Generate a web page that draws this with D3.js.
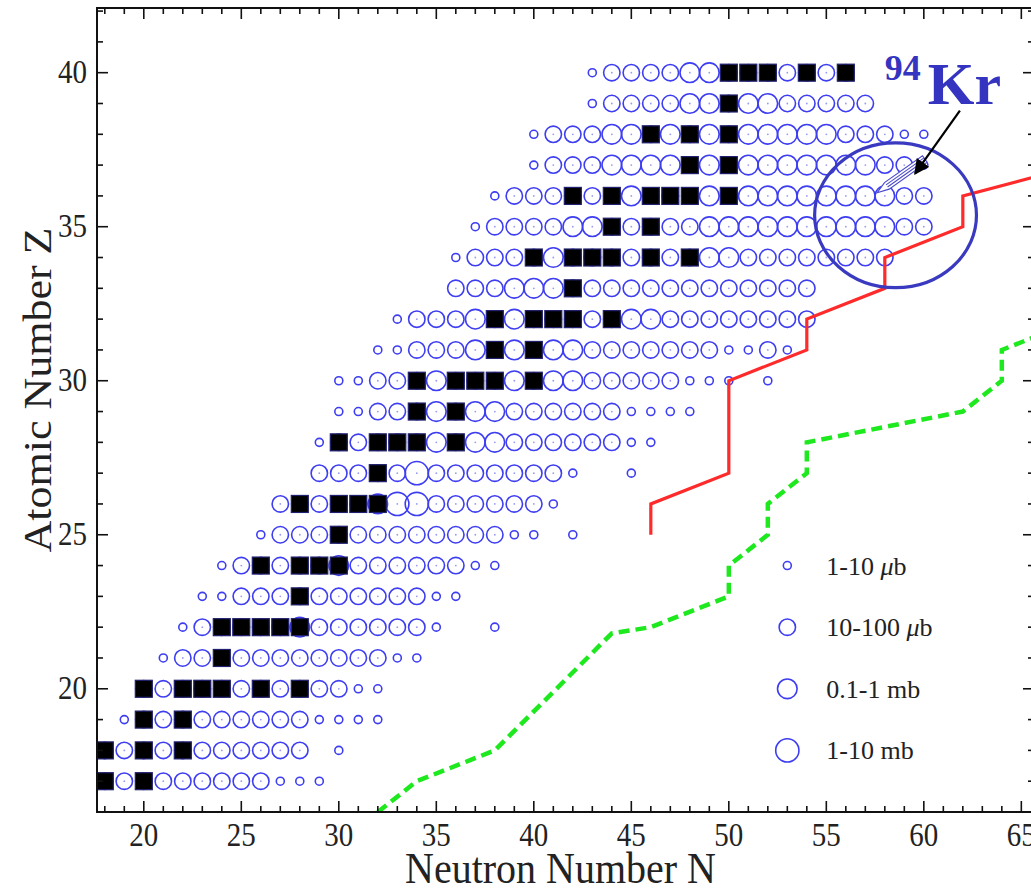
<!DOCTYPE html>
<html>
<head>
<meta charset="utf-8">
<script src="https://cdn.jsdelivr.net/npm/d3@7"></script>
<style>
  body { margin: 0; background: #ffffff; }
  text { font-family: "Liberation Serif", "DejaVu Serif", serif; fill: #222; }
</style>
</head>
<body>
<svg id="chart" width="1031" height="891"></svg>
<script>
/* measured cross sections, one row per Z
   code per neutron number starting at rowN0:
   s = 1-10 ub, m = 10-100 ub, l = 0.1-1 mb, x = 1-10 mb, . = none */
var rowZ    = [17, 18, 19, 20, 21, 22, 23, 24, 25, 26, 27, 28,
               29, 30, 31, 32, 33, 34, 35, 36, 37, 38, 39, 40];
var rowN0   = [18, 18, 19, 20, 21, 22, 23, 24, 26, 27, 29, 29,
               30, 30, 32, 33, 36, 36, 37, 38, 40, 40, 43, 43];
var rowCode = [
	"mmmmmmmmmsss",
	"mmmmmmmmmmm.s",
	"smmmmmmmmmssss",
	"mmmmmmmmmmmss",
	"smmmmmmmmmmmss",
	"smmmmmlmmmmmms..s",
	"ssmmmmmmmmmmss",
	"smmmmmlmmmmmmss",
	"smmmmmmmmmmmmss.s",
	"mmmmmlxxmmmmmms",
	"mmmmmxmmmmmmms..s",
	"smmmmmlmllmmmmmmss",
	"ssmmmlmllmmmmmmssss",
	"ssmmmlmmmlmllmmmmmsss.s",
	"ssmmmlmlmllmmmmmmmssms",
	"smmmlmlmmmmmllmmmmmmmm",
	"mmmlllmmmmmmmmmmmmm",
	"smmmmlmmmmmmmllmmmmmmmm",
	"smmmmllmmmmmllllllllllmm",
	"smmmmmmlmmmlmllllllllmm",
	"smmmllllmlmlllllllmms",
	"smmmllmlmlmlllllmmmss",
	"smmmmllmllmmmmm",
	"smmmmllmmmmmmm"
];

/* stable isotopes (black squares), neutron numbers per Z */
var stableN = {
	17: [18, 20], 18: [18, 20, 22], 19: [20, 22], 20: [20, 22, 23, 24, 26, 28],
	21: [24], 22: [24, 25, 26, 27, 28], 23: [28], 24: [26, 28, 29, 30],
	25: [30], 26: [28, 30, 31, 32], 27: [32], 28: [30, 32, 33, 34, 36],
	29: [34, 36], 30: [34, 36, 37, 38, 40], 31: [38, 40], 32: [38, 40, 41, 42, 44],
	33: [42], 34: [40, 42, 43, 44, 46, 48], 35: [44, 46], 36: [42, 44, 46, 47, 48, 50],
	37: [48, 50], 38: [46, 48, 50], 39: [50], 40: [50, 51, 52, 54, 56]
};

/* limit lines [N, Z] */
var redPath = [[46, 25], [46, 26], [50, 27], [50, 30], [54, 31], [54, 32],
               [58, 33], [58, 34], [62, 35], [62, 36], [68, 37]];
var greenPath = [[32, 16], [34, 17], [38, 18], [44, 21.8], [46, 22], [50, 23],
                 [50, 24], [52, 25], [52, 26], [54, 27], [54, 28], [62, 29],
                 [64, 30], [64, 31], [68, 32]];

/* legend */
var legendClass = ["s", "m", "l", "x"];
var legendText  = [["1-10 ", "\u03bc", "b"], ["10-100 ", "\u03bc", "b"], ["0.1-1 mb", "", ""], ["1-10 mb", "", ""]];
var legendZ     = [24, 22, 20, 18];

/* ticks */
var xMajor = [20, 25, 30, 35, 40, 45, 50, 55, 60, 65];
var yMajor = [20, 25, 30, 35, 40];

/* 94Kr annotation, in data units */
var krEllipse = [58.55, 35.37, 4.15, 2.35];
var krArrow   = [[61.85, 38.77], [59.55, 36.72]];
var krPencil  = [[57.6, 36.1], [60.05, 37.2]];
var krLabel   = [58.0, 39.75, 60.2, 38.99];

/* appearance */
var radius = { s: 4.0, m: 8.2, l: 9.8, x: 11.6 };
var circle_Colour = "#3d3df2";

var svg = d3.select("#chart");
var plot_Left = 97, plot_Right = 1034, plot_Top = 8, plot_Bottom = 812;

var x = d3.scaleLinear().domain([17.6, 65.65]).range([plot_Left, plot_Right]);
var y = d3.scaleLinear().domain([16, 42.1]).range([plot_Bottom, plot_Top]);

var defs = svg.append("defs");
defs.append("clipPath").attr("id", "plotClip")
	.append("rect").attr("x", plot_Left).attr("y", plot_Top)
	.attr("width", plot_Right - plot_Left).attr("height", plot_Bottom - plot_Top);

var plot = svg.append("g").attr("clip-path", "url(#plotClip)");

/* circles */
var cells = [];
rowZ.forEach(function(z, r) {
	rowCode[r].split("").forEach(function(c, i) {
		if (c != ".") cells.push({ n: rowN0[r] + i, z: z, c: c });
	});
});

plot.selectAll("circle.xs").data(cells).enter().append("circle")
	.attr("class", "xs")
	.attr("cx", function(d) { return x(d.n); })
	.attr("cy", function(d) { return y(d.z); })
	.attr("r", function(d) { return radius[d.c]; })
	.attr("fill", "none")
	.attr("stroke", circle_Colour)
	.attr("stroke-width", 1.6);

plot.selectAll("circle.dot").data(cells.filter(function(d) { return d.c != "s"; })).enter().append("circle")
	.attr("class", "dot")
	.attr("cx", function(d) { return x(d.n); })
	.attr("cy", function(d) { return y(d.z); })
	.attr("r", 0.9)
	.attr("fill", "#9a9af5");

/* stable squares */
var stable = [];
Object.keys(stableN).forEach(function(z) {
	stableN[z].forEach(function(n) { stable.push({ n: n, z: +z }); });
});

plot.selectAll("rect.stable").data(stable).enter().append("rect")
	.attr("class", "stable")
	.attr("x", function(d) { return x(d.n) - 8.5; })
	.attr("y", function(d) { return y(d.z) - 8.5; })
	.attr("width", 17)
	.attr("height", 17)
	.attr("fill", "#000")
	.attr("stroke", "#202070")
	.attr("stroke-width", 1.2);

/* limit lines */
var line = d3.line().x(function(d) { return x(d[0]); }).y(function(d) { return y(d[1]); });

plot.append("path").datum(redPath)
	.attr("d", line).attr("fill", "none")
	.attr("stroke", "#ff2a2a").attr("stroke-width", 3.2);

plot.append("path").datum(greenPath)
	.attr("d", line).attr("fill", "none")
	.attr("stroke", "#1ee81e").attr("stroke-width", 4.5)
	.attr("stroke-dasharray", "11,6");

/* frame and ticks */
svg.append("rect").attr("x", plot_Left).attr("y", plot_Top)
	.attr("width", plot_Right - plot_Left).attr("height", plot_Bottom - plot_Top)
	.attr("fill", "none").attr("stroke", "#111").attr("stroke-width", 2);

var xMinor = d3.range(18, 66);
var yMinor = d3.range(17, 43);

var ticks = svg.append("g").attr("stroke", "#111").attr("stroke-width", 1.6);

xMinor.forEach(function(n) {
	var len = xMajor.indexOf(n) >= 0 ? 11 : 6;
	ticks.append("line").attr("x1", x(n)).attr("x2", x(n)).attr("y1", plot_Bottom).attr("y2", plot_Bottom - len);
	ticks.append("line").attr("x1", x(n)).attr("x2", x(n)).attr("y1", plot_Top).attr("y2", plot_Top + len);
});
yMinor.forEach(function(z) {
	var len = yMajor.indexOf(z) >= 0 ? 11 : 6;
	ticks.append("line").attr("y1", y(z)).attr("y2", y(z)).attr("x1", plot_Left).attr("x2", plot_Left + len);
	ticks.append("line").attr("y1", y(z)).attr("y2", y(z)).attr("x1", plot_Right).attr("x2", plot_Right - len);
});

/* tick labels, slightly tall like the original lettering */
xMajor.forEach(function(d) {
	svg.append("text")
		.attr("transform", "translate(" + x(d) + ",846) scale(1,1.15)")
		.attr("text-anchor", "middle")
		.attr("font-size", 29)
		.text(d);
});

yMajor.forEach(function(d) {
	svg.append("text")
		.attr("transform", "translate(87," + (y(d) + 10) + ") scale(1,1.15)")
		.attr("text-anchor", "end")
		.attr("font-size", 29)
		.text(d);
});

svg.append("text")
	.attr("transform", "translate(" + ((plot_Left + plot_Right) / 2 - 5) + ",883) scale(1,1.1)")
	.attr("text-anchor", "middle")
	.attr("font-size", 40)
	.text("Neutron Number N");

svg.append("text")
	.attr("transform", "translate(51," + ((plot_Top + plot_Bottom) / 2 - 20) + ") rotate(-90) scale(1.1,1)")
	.attr("text-anchor", "middle")
	.attr("font-size", 40)
	.text("Atomic Number Z");

/* legend */
var legend = svg.append("g");
legendClass.forEach(function(c, i) {
	legend.append("circle")
		.attr("cx", x(53)).attr("cy", y(legendZ[i]))
		.attr("r", radius[c])
		.attr("fill", "none").attr("stroke", circle_Colour).attr("stroke-width", 1.6);
	var t = legend.append("text")
		.attr("x", x(55)).attr("y", y(legendZ[i]) + 9)
		.attr("font-size", 26);
	t.append("tspan").text(legendText[i][0]);
	t.append("tspan").attr("font-style", "italic").text(legendText[i][1]);
	t.append("tspan").text(legendText[i][2]);
});

/* 94Kr annotation */
var ann = svg.append("g");
ann.append("ellipse")
	.attr("cx", x(krEllipse[0])).attr("cy", y(krEllipse[1]))
	.attr("rx", x(krEllipse[0] + krEllipse[2]) - x(krEllipse[0]))
	.attr("ry", y(krEllipse[1]) - y(krEllipse[1] + krEllipse[3]))
	.attr("fill", "none").attr("stroke", "#3a3ac0").attr("stroke-width", 3.2);

/* pencil pointing at the nucleus */
var p0 = [x(krPencil[0][0]), y(krPencil[0][1])];
var p1 = [x(krPencil[1][0]), y(krPencil[1][1])];
var ang = Math.atan2(p1[1] - p0[1], p1[0] - p0[0]) * 180 / Math.PI;
var plen = Math.hypot(p1[0] - p0[0], p1[1] - p0[1]);
var pencil = ann.append("g")
	.attr("transform", "translate(" + p0[0] + "," + p0[1] + ") rotate(" + ang + ")")
	.attr("fill", "#fff").attr("stroke", "#4a4acc").attr("stroke-width", 1.1);
pencil.append("path")
	.attr("d", "M0,0 L12,-4 L" + plen + ",-4 L" + plen + ",4 L12,4 Z");
pencil.append("line").attr("x1", 12).attr("x2", plen).attr("y1", -1.3).attr("y2", -1.3);
pencil.append("line").attr("x1", 12).attr("x2", plen).attr("y1", 1.3).attr("y2", 1.3);

defs.append("marker").attr("id", "head")
	.attr("viewBox", "0 0 10 10").attr("refX", 9).attr("refY", 5)
	.attr("markerWidth", 7).attr("markerHeight", 7).attr("orient", "auto")
	.append("path").attr("d", "M0,0 L10,5 L0,10 Z").attr("fill", "#000");

ann.append("line")
	.attr("x1", x(krArrow[0][0])).attr("y1", y(krArrow[0][1]))
	.attr("x2", x(krArrow[1][0])).attr("y2", y(krArrow[1][1]))
	.attr("stroke", "#000").attr("stroke-width", 2.2)
	.attr("marker-end", "url(#head)");

ann.append("text")
	.attr("x", x(krLabel[0])).attr("y", y(krLabel[1]))
	.attr("font-size", 36).attr("font-weight", "bold")
	.style("fill", "#3434c0")
	.text("94");
ann.append("text")
	.attr("x", x(krLabel[2])).attr("y", y(krLabel[3]))
	.attr("font-size", 60).attr("font-weight", "bold")
	.style("fill", "#3434c0")
	.text("Kr");
</script>
</body>
</html>
